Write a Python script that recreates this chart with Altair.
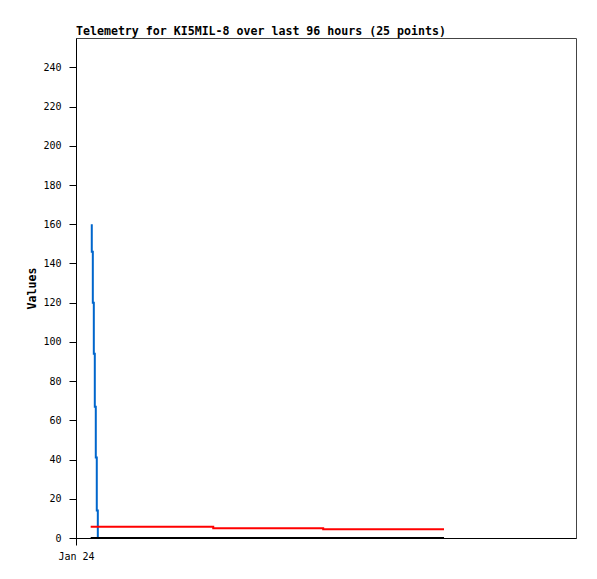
import altair as alt
import pandas as pd

# ---- data (x in hours since Jan 24 00:00) ----
blue_hours = [3.03, 3.23, 3.42, 3.61, 3.80, 3.99, 4.19, 4.28]
blue_values = [160, 146, 120, 94, 67, 41, 14, 0]

red_hours = [2.82, 26.35, 47.46, 70.66]
red_values = [5.7, 5.0, 4.5, 4.5]

black_hours = [2.82, 70.66]
black_values = [0, 0]

x_tick_hours = [0]
x_tick_labels = ["Jan 24"]
y_ticks = list(range(0, 241, 20))

title_text = "Telemetry for KI5MIL-8 over last 96 hours (25 points)"
y_title = "Values"

blue_df = pd.DataFrame({"t": blue_hours, "v": blue_values})
red_df = pd.DataFrame({"t": red_hours, "v": red_values})
black_df = pd.DataFrame({"t": black_hours, "v": black_values})

label_expr = " : ".join(
    [f"datum.value == {h} ? '{l}'" for h, l in zip(x_tick_hours, x_tick_labels)] + ["''"]
)

common_axis = dict(
    grid=False,
    domain=True,
    domainColor="black",
    domainWidth=1,
    ticks=True,
    tickColor="black",
    tickSize=7,
    labelColor="black",
    labelFont="DejaVu Sans Mono",
    labelFontSize=10,
    titleFont="DejaVu Sans Mono",
    titleFontSize=11.6,
    titleFontWeight="bold",
    titleColor="black",
)

x_enc = alt.X(
    "t:Q",
    scale=alt.Scale(domain=[0, 96], nice=False, zero=False),
    axis=alt.Axis(
        values=x_tick_hours,
        labelExpr=label_expr,
        title=None,
        labelPadding=6,
        labelAlign="center",
        **common_axis,
    ),
)
y_enc = alt.Y(
    "v:Q",
    scale=alt.Scale(domain=[0, 255], nice=False),
    axis=alt.Axis(
        values=y_ticks,
        title=y_title,
        labelPadding=8,
        titleX=-40.5,
        titleY=250,
        titleAngle=270,
        titleBaseline="alphabetic",
        titleAlign="center",
        **common_axis,
    ),
)

blue = alt.Chart(blue_df).mark_line(
    color="#0066cc", strokeWidth=2, interpolate="step-before"
).encode(x=x_enc, y=y_enc)

red = alt.Chart(red_df).mark_line(
    color="#ff0000", strokeWidth=2, interpolate="step-after"
).encode(x=x_enc, y=y_enc)

black = alt.Chart(black_df).mark_line(
    color="#000000", strokeWidth=2
).encode(x=x_enc, y=y_enc)

chart = (
    alt.layer(blue, red, black)
    .properties(
        width=500,
        height=500,
        background="white",
        autosize=alt.AutoSizeParams(type="none"),
        padding={"left": 68, "top": 30, "right": 13, "bottom": 33},
        title=alt.TitleParams(
            text=title_text,
            anchor="start",
            frame="group",
            font="DejaVu Sans Mono",
            fontSize=11.6,
            fontWeight="bold",
            baseline="alphabetic",
            offset=8,
            dy=17,
            dx=0,
            color="black",
        ),
    )
    .configure_view(stroke="#444444", strokeWidth=1)
)

chart.save("out.html", embed_options={"renderer": "svg", "actions": False})
